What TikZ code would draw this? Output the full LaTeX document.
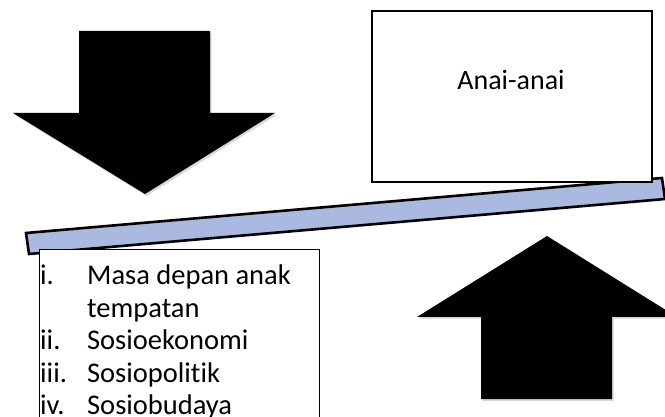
\documentclass[tikz,border=0pt]{standalone}
\usepackage{fontspec}
\setmainfont{Carlito}[Ligatures=NoCommon]
\usepackage{tikz}
\usetikzlibrary{positioning, shadows}
\definecolor{beamblue}{RGB}{170, 185, 224}

\begin{document}
\begin{tikzpicture}[x=1pt, y=-1pt,
    blockarrow/.style={fill=black, drop shadow={shadow xshift=1.5pt, shadow yshift=-2pt, opacity=0.3}},
    beam/.style={draw=black, line width=2.6pt, fill=beamblue, line join=miter},
    textbox/.style={draw=black, line width=1.4pt, fill=white, inner sep=0pt}]
  \useasboundingbox (0,0) rectangle (665,417);
  \clip (0,0) rectangle (665,417);

  % pushing arrows
  \path[blockarrow] (79,31) -- (210,31) -- (210,113) -- (275,113) -- (145,194)
    -- (13,113) -- (79,113) -- cycle;
  \path[blockarrow] (481,399) -- (612,399) -- (612,317) -- (677,317) -- (547,236)
    -- (417,317) -- (481,317) -- cycle;

  % tilted beam
  \draw[beam] (26,233) -- (662,178) -- (665,199) -- (29,254) -- cycle;

  % boxes
  \node[textbox, minimum width=280pt, minimum height=171pt] (anai) at (512,96.5) {};
  \node[font=\fontsize{28}{33}\selectfont, anchor=base, inner sep=0pt] (anaitext) at (511,90) {Anai-anai};

  \node[textbox, anchor=north west, minimum width=280pt, minimum height=220pt] (faktor) at (39,249) {};
  \node[font=\fontsize{28.5}{32.5}\selectfont, anchor=base west, inner sep=0pt] (senarai) at (40,285) {%
    \begin{tabular}[t]{@{}p{47pt}@{}l@{}}
      i.   & Masa depan anak\\
           & tempatan\\
      ii.  & Sosioekonomi\\
      iii. & Sosiopolitik\\
      iv.  & Sosiobudaya
    \end{tabular}};
\end{tikzpicture}
\end{document}
